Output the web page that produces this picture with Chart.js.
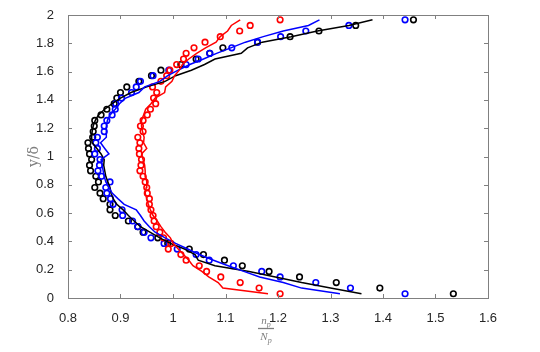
<!DOCTYPE html>
<html>
<head>
<meta charset="utf-8">
<script src="https://cdn.jsdelivr.net/npm/chart.js@4/dist/chart.umd.min.js"></script>
<style>
  html, body { margin: 0; padding: 0; background: #fff; }
  #wrap { width: 540px; height: 352px; position: relative; }
</style>
</head>
<body>
<div id="wrap"><canvas id="profileChart"></canvas></div>
<script>
// --- DATA ---
// wall-normal positions y/delta (shared by all profiles)
const yLevels = [
  0.030, 0.070, 0.109, 0.149, 0.188, 0.228, 0.267, 0.307, 0.346, 0.386,
  0.425, 0.465, 0.504, 0.544, 0.583, 0.623, 0.662, 0.702, 0.741, 0.781,
  0.820, 0.860, 0.899, 0.939, 0.978, 1.018, 1.057, 1.097, 1.136, 1.176,
  1.215, 1.255, 1.294, 1.334, 1.373, 1.413, 1.452, 1.492, 1.531, 1.571,
  1.610, 1.650, 1.689, 1.729, 1.768, 1.808, 1.847, 1.887, 1.926, 1.966
];

// circles (n_p / N_p)
const blackDots = [
  1.534, 1.394, 1.311, 1.241, 1.183, 1.132, 1.098, 1.058, 1.031, 0.990,
  0.971, 0.943, 0.933, 0.915, 0.890, 0.880, 0.880, 0.867, 0.861, 0.851,
  0.858, 0.853, 0.843, 0.841, 0.845, 0.841, 0.839, 0.838, 0.847, 0.848,
  0.850, 0.851, 0.863, 0.874, 0.888, 0.893, 0.900, 0.912, 0.935, 0.959,
  0.977, 1.015, 1.044, 1.070, 1.095, 1.161, 1.223, 1.278, 1.348, 1.458
];
const blueDots = [
  1.442, 1.338, 1.272, 1.204, 1.169, 1.115, 1.069, 1.044, 1.008, 0.983,
  0.958, 0.945, 0.933, 0.923, 0.904, 0.903, 0.886, 0.881, 0.874, 0.872,
  0.880, 0.864, 0.857, 0.860, 0.861, 0.851, 0.856, 0.853, 0.856, 0.869,
  0.869, 0.874, 0.884, 0.890, 0.891, 0.902, 0.921, 0.930, 0.938, 0.962,
  0.992, 1.025, 1.048, 1.070, 1.112, 1.161, 1.205, 1.253, 1.335, 1.442
];
const redDots = [
  1.204, 1.164, 1.128, 1.091, 1.064, 1.050, 1.025, 1.015, 0.991, 0.996,
  0.982, 0.975, 0.968, 0.964, 0.962, 0.958, 0.955, 0.955, 0.951, 0.950,
  0.947, 0.943, 0.937, 0.939, 0.940, 0.936, 0.935, 0.937, 0.933, 0.943,
  0.938, 0.943, 0.951, 0.957, 0.967, 0.963, 0.969, 0.961, 0.977, 0.988,
  0.994, 1.007, 1.020, 1.025, 1.040, 1.061, 1.090, 1.127, 1.147, 1.204
];

// lines (n_p / N_p)
const blackLine = [
  1.359, 1.300, 1.245, 1.195, 1.145, 1.080, 1.048, 1.042, 1.022, 0.995,
  0.975, 0.956, 0.938, 0.926, 0.915, 0.905, 0.893, 0.886, 0.882, 0.880,
  0.876, 0.872, 0.870, 0.868, 0.869, 0.863, 0.855, 0.846, 0.845, 0.846,
  0.848, 0.852, 0.858, 0.870, 0.884, 0.900, 0.920, 0.950, 0.985, 1.005,
  1.035, 1.060, 1.080, 1.130, 1.142, 1.170, 1.225, 1.275, 1.335, 1.380
];
const blueLine = [
  1.318, 1.245, 1.210, 1.165, 1.135, 1.105, 1.077, 1.050, 1.028, 1.005,
  0.985, 0.966, 0.955, 0.945, 0.938, 0.930, 0.907, 0.895, 0.884, 0.878,
  0.872, 0.869, 0.867, 0.865, 0.863, 0.878, 0.870, 0.862, 0.873, 0.873,
  0.873, 0.875, 0.880, 0.890, 0.898, 0.910, 0.935, 0.946, 0.975, 0.990,
  1.010, 1.032, 1.058, 1.083, 1.110, 1.138, 1.172, 1.210, 1.258, 1.279
];
const redLine = [
  1.181, 1.095, 1.086, 1.068, 1.055, 1.038, 1.030, 1.020, 1.010, 1.000,
  0.995, 0.985, 0.977, 0.970, 0.962, 0.957, 0.953, 0.950, 0.947, 0.949,
  0.950, 0.948, 0.947, 0.946, 0.943, 0.940, 0.950, 0.944, 0.945, 0.942,
  0.940, 0.940, 0.944, 0.948, 0.958, 0.966, 0.984, 0.986, 0.998, 1.003,
  1.012, 1.018, 1.030, 1.045, 1.062, 1.082, 1.090, 1.104, 1.111, 1.128
];

// tick labels
const xTicks = [0.8, 0.9, 1, 1.1, 1.2, 1.3, 1.4, 1.5, 1.6];
const yTicks = [0, 0.2, 0.4, 0.6, 0.8, 1, 1.2, 1.4, 1.6, 1.8, 2];

// --- HELPERS ---
const toXY = xs => xs.map((x, i) => ({ x: x, y: yLevels[i] }));

function lineSet(xs, color) {
  return {
    data: toXY(xs),
    showLine: true,
    borderColor: color,
    borderWidth: 1.5,
    pointRadius: 0,
    tension: 0
  };
}

function dotSet(xs, color) {
  return {
    data: toXY(xs),
    showLine: false,
    borderColor: color,
    backgroundColor: 'rgba(0,0,0,0)',
    pointStyle: 'circle',
    pointRadius: 2.8,
    pointBorderWidth: 1.6
  };
}

// frame with inward ticks on all four sides + axis titles
const framePlugin = {
  id: 'frame',
  afterDraw(chart) {
    const { ctx, chartArea: a, scales } = chart;
    const t = 4;
    ctx.save();
    ctx.strokeStyle = '#808080';
    ctx.lineWidth = 1;
    ctx.strokeRect(a.left + 0.5, a.top + 0.5, a.right - a.left, a.bottom - a.top);
    ctx.beginPath();
    xTicks.forEach(v => {
      const px = Math.round(scales.x.getPixelForValue(v)) + 0.5;
      ctx.moveTo(px, a.bottom); ctx.lineTo(px, a.bottom - t);
      ctx.moveTo(px, a.top); ctx.lineTo(px, a.top + t);
    });
    yTicks.forEach(v => {
      const py = Math.round(scales.y.getPixelForValue(v)) + 0.5;
      ctx.moveTo(a.left, py); ctx.lineTo(a.left + t, py);
      ctx.moveTo(a.right, py); ctx.lineTo(a.right - t, py);
    });
    ctx.stroke();

    // y title
    ctx.fillStyle = '#7f7f7f';
    ctx.font = '14px "DejaVu Serif", "Liberation Serif", serif';
    ctx.textAlign = 'center';
    ctx.textBaseline = 'middle';
    ctx.translate(34, (a.top + a.bottom) / 2);
    ctx.rotate(-Math.PI / 2);
    ctx.fillText('y/\u03b4', 0, 0);
    ctx.restore();

    // x title: n_p over N_p
    ctx.save();
    ctx.fillStyle = '#7f7f7f';
    ctx.strokeStyle = '#7f7f7f';
    const cx = 266;
    ctx.textBaseline = 'alphabetic';
    ctx.textAlign = 'left';
    const big = 'italic 11px "Liberation Serif", "DejaVu Serif", serif';
    const sub = 'italic 8px "Liberation Serif", "DejaVu Serif", serif';
    ctx.font = big;
    const wn = ctx.measureText('n').width, wN = ctx.measureText('N').width;
    ctx.font = sub;
    const wp = ctx.measureText('p').width;
    ctx.font = big; ctx.fillText('n', cx - (wn + wp) / 2, 324);
    ctx.font = sub; ctx.fillText('p', cx - (wn + wp) / 2 + wn, 327);
    ctx.font = big; ctx.fillText('N', cx - (wN + wp) / 2, 340);
    ctx.font = sub; ctx.fillText('p', cx - (wN + wp) / 2 + wN, 343);
    ctx.lineWidth = 1.3;
    ctx.beginPath();
    ctx.moveTo(cx - 8, 328.5); ctx.lineTo(cx + 8, 328.5);
    ctx.stroke();
    ctx.restore();
  }
};

const tickFont = { family: '"Liberation Sans", Arial, sans-serif', size: 13 };

new Chart(document.getElementById('profileChart'), {
  type: 'scatter',
  data: {
    datasets: [
      lineSet(redLine, '#ff0000'),
      lineSet(blueLine, '#0000ff'),
      lineSet(blackLine, '#000000'),
      dotSet(redDots, '#ff0000'),
      dotSet(blueDots, '#0000ff'),
      dotSet(blackDots, '#000000')
    ]
  },
  options: {
    responsive: true,
    maintainAspectRatio: false,
    animation: false,
    layout: { padding: { left: 0, top: 15, right: 52, bottom: 0 } },
    plugins: { legend: { display: false }, tooltip: { enabled: false } },
    scales: {
      x: {
        type: 'linear',
        min: 0.8,
        max: 1.6,
        grid: { display: false },
        border: { display: false },
        afterBuildTicks: s => { s.ticks = xTicks.map(v => ({ value: v })); },
        afterFit: s => { s.height = 54; },
        ticks: {
          color: '#262626',
          font: tickFont,
          padding: 5,
          maxRotation: 0,
          callback: v => String(v)
        }
      },
      y: {
        type: 'linear',
        min: 0,
        max: 2,
        grid: { display: false },
        border: { display: false },
        afterBuildTicks: s => { s.ticks = yTicks.map(v => ({ value: v })); },
        afterFit: s => { s.width = 68; },
        ticks: {
          color: '#262626',
          font: tickFont,
          padding: 6,
          callback: v => String(v)
        }
      }
    }
  },
  plugins: [framePlugin]
});
</script>
</body>
</html>
